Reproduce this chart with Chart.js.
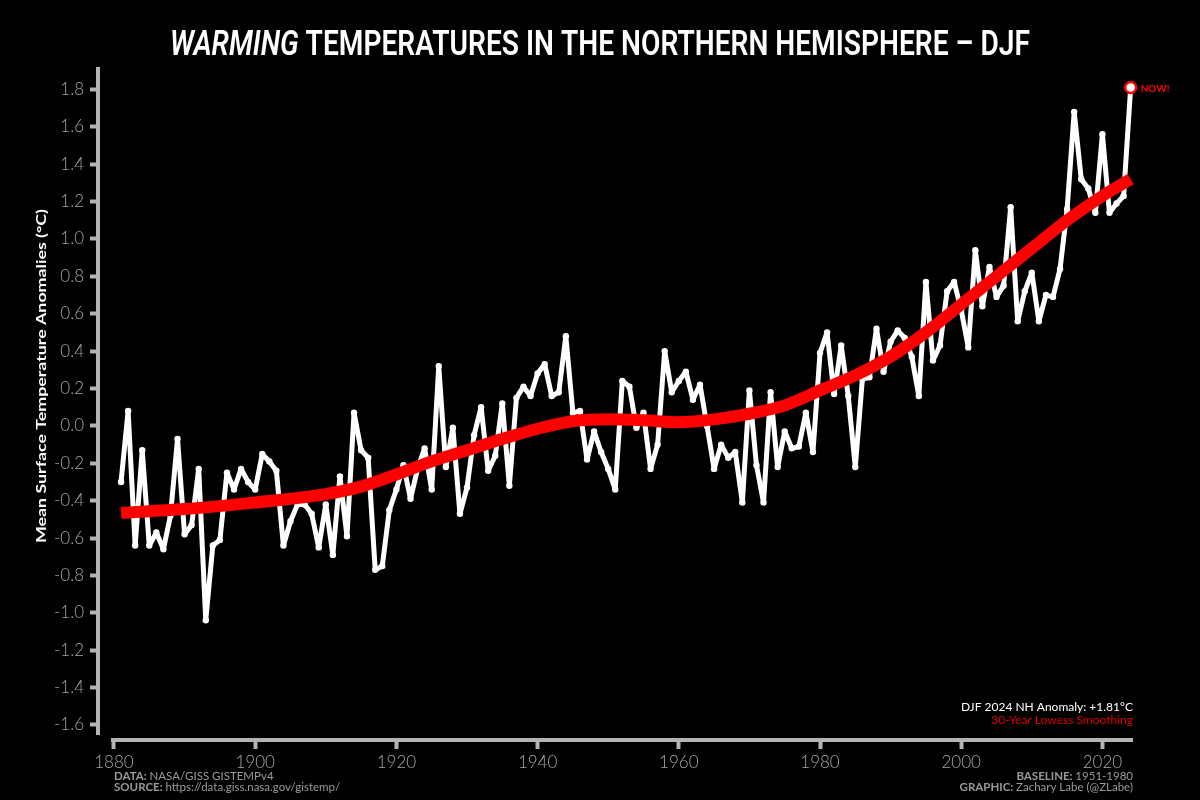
<!DOCTYPE html>
<html>
<head>
<meta charset="utf-8">
<script src="https://cdn.jsdelivr.net/npm/chart.js@4.4.1/dist/chart.umd.min.js"></script>
<style>
  html, body { margin: 0; padding: 0; background: #000; }
  #chart { display: block; }
</style>
</head>
<body>
<canvas id="chart" width="1200" height="800"></canvas>
<script>
// DJF Northern Hemisphere anomalies (deg C), 1881-2024
const years = [];
for (let y = 1881; y <= 2024; y++) years.push(y);

const anomalies = [
  -0.30, 0.08, -0.64, -0.13, -0.64, -0.57, -0.66, -0.48, -0.07, -0.58,   // 1881-1890
  -0.53, -0.23, -1.04, -0.64, -0.61, -0.25, -0.34, -0.23, -0.30, -0.34,  // 1891-1900
  -0.15, -0.19, -0.24, -0.64, -0.51, -0.42, -0.42, -0.47, -0.65, -0.42,  // 1901-1910
  -0.69, -0.27, -0.59, 0.07, -0.13, -0.17, -0.77, -0.75, -0.45, -0.34,   // 1911-1920
  -0.21, -0.39, -0.23, -0.12, -0.34, 0.32, -0.22, -0.01, -0.47, -0.33,   // 1921-1930
  -0.05, 0.10, -0.24, -0.16, 0.12, -0.32, 0.15, 0.21, 0.16, 0.28,        // 1931-1940
  0.33, 0.16, 0.18, 0.48, 0.07, 0.08, -0.18, -0.03, -0.14, -0.23,        // 1941-1950
  -0.34, 0.24, 0.21, -0.01, 0.07, -0.23, -0.10, 0.40, 0.18, 0.24,        // 1951-1960
  0.29, 0.14, 0.22, 0.00, -0.23, -0.10, -0.17, -0.14, -0.41, 0.19,       // 1961-1970
  -0.21, -0.41, 0.18, -0.22, -0.03, -0.12, -0.11, 0.07, -0.14, 0.39,     // 1971-1980
  0.50, 0.17, 0.43, 0.16, -0.22, 0.25, 0.26, 0.52, 0.29, 0.45,           // 1981-1990
  0.51, 0.47, 0.37, 0.16, 0.77, 0.35, 0.43, 0.72, 0.77, 0.62,            // 1991-2000
  0.42, 0.94, 0.64, 0.85, 0.69, 0.75, 1.17, 0.56, 0.72, 0.82,            // 2001-2010
  0.56, 0.70, 0.69, 0.84, 1.16, 1.68, 1.32, 1.27, 1.14, 1.56,            // 2011-2020
  1.14, 1.19, 1.23, 1.81                                                 // 2021-2024
];

// 30-year lowess curve, read at a few years
const smoothYears = [1881, 1890, 1900, 1905, 1910, 1915, 1920, 1925, 1930, 1935, 1940, 1945, 1950,
  1955, 1960, 1965, 1970, 1975, 1980, 1985, 1990, 1995, 2000, 2005, 2010, 2015, 2020, 2024];
const smoothValues = [-0.465, -0.445, -0.41, -0.39, -0.365, -0.325, -0.26, -0.19, -0.13, -0.07, -0.015, 0.025, 0.035,
  0.03, 0.02, 0.035, 0.065, 0.11, 0.19, 0.27, 0.37, 0.50, 0.65, 0.80, 0.95, 1.10, 1.23, 1.32];

const xTicks = [1880, 1900, 1920, 1940, 1960, 1980, 2000, 2020];
const yTicks = [-1.6, -1.4, -1.2, -1.0, -0.8, -0.6, -0.4, -0.2, 0.0, 0.2, 0.4, 0.6, 0.8, 1.0, 1.2, 1.4, 1.6, 1.8];

const AXIS_GREY = '#b4b4b4';
const TEXT_GREY = '#a6a6a6';
const FONT = 'Lato, "Open Sans", sans-serif';

// fills text squeezed or stretched to a given width
function fitText(ctx, text, x, y, width) {
  const w = ctx.measureText(text).width;
  ctx.save();
  ctx.translate(x, y);
  ctx.scale(width / w, 1);
  ctx.fillText(text, 0, 0);
  ctx.restore();
}

// draws the title, spines, axis label and the small notes
const decorations = {
  id: 'decorations',
  beforeDraw(chart) {
    const ctx = chart.ctx;
    ctx.save();
    ctx.fillStyle = '#000';
    ctx.fillRect(0, 0, chart.width, chart.height);
    ctx.restore();
  },
  afterDraw(chart) {
    const ctx = chart.ctx;
    const area = chart.chartArea;
    const xs = chart.scales.x;
    const ys = chart.scales.y;
    ctx.save();

    // spines, offset like the original
    ctx.strokeStyle = AXIS_GREY;
    ctx.lineWidth = 4;
    ctx.lineCap = 'butt';
    ctx.beginPath();
    ctx.moveTo(area.left - 2, area.top);
    ctx.lineTo(area.left - 2, ys.getPixelForValue(yTicks[0]) + 10);
    ctx.moveTo(xs.getPixelForValue(xTicks[0]) - 3, area.bottom + 1);
    ctx.lineTo(area.right + 1, area.bottom + 1);
    ctx.stroke();

    // title: first word in italics, squeezed to the original width
    const part1 = 'WARMING';
    const part2 = ' TEMPERATURES IN THE NORTHERN HEMISPHERE \u2013 DJF';
    ctx.fillStyle = '#fff';
    ctx.textBaseline = 'alphabetic';
    ctx.font = 'italic 600 35px Roboto';
    const w1 = ctx.measureText(part1).width;
    ctx.font = '600 35px Roboto';
    const w2 = ctx.measureText(part2).width;
    const sx = 860 / (w1 + w2);
    ctx.save();
    ctx.translate(170, 55);
    ctx.scale(sx, 1);
    ctx.textAlign = 'left';
    ctx.font = 'italic 600 35px Roboto';
    ctx.fillText(part1, 0, 0);
    ctx.font = '600 35px Roboto';
    ctx.fillText(part2, w1, 0);
    ctx.restore();

    // y axis title
    ctx.save();
    ctx.translate(41, 376);
    ctx.rotate(-Math.PI / 2);
    ctx.textAlign = 'left';
    ctx.textBaseline = 'middle';
    ctx.font = 'bold 14px ' + FONT;
    ctx.fillStyle = '#fff';
    fitText(ctx, 'Mean Surface Temperature Anomalies (\u00b0C)', -167, 0, 334);
    ctx.restore();

    // "NOW!" next to the last point
    const last = years.length - 1;
    ctx.font = 'bold 10px ' + FONT;
    ctx.fillStyle = '#ff0000';
    ctx.textAlign = 'left';
    ctx.textBaseline = 'middle';
    ctx.fillText('NOW!', xs.getPixelForValue(years[last]) + 10, ys.getPixelForValue(anomalies[last]) + 1);

    // legend notes, bottom right of the plot
    ctx.textAlign = 'right';
    ctx.font = '12px ' + FONT;
    ctx.fillStyle = '#fff';
    ctx.fillText('DJF 2024 NH Anomaly: +1.81\u00b0C', area.right + 1, 707);
    ctx.fillStyle = '#e00000';
    ctx.fillText('30-Year Lowess Smoothing', area.right + 1, 720);

    // footers
    ctx.textBaseline = 'alphabetic';
    function labelled(bold, rest, x, y, align) {
      ctx.font = 'bold 11.5px ' + FONT;
      const bw = ctx.measureText(bold).width;
      ctx.font = '11.5px ' + FONT;
      const rw = ctx.measureText(rest).width;
      const start = align === 'right' ? x - bw - rw : x;
      ctx.textAlign = 'left';
      ctx.fillStyle = '#9a9a9a';
      ctx.font = 'bold 11.5px ' + FONT;
      ctx.fillText(bold, start, y);
      ctx.font = '11.5px ' + FONT;
      ctx.fillText(rest, start + bw, y);
    }
    labelled('DATA: ', 'NASA/GISS GISTEMPv4', 114, 780, 'left');
    labelled('SOURCE: ', 'https://data.giss.nasa.gov/gistemp/', 114, 791, 'left');
    labelled('BASELINE: ', '1951-1980', area.right + 1, 780, 'right');
    labelled('GRAPHIC: ', 'Zachary Labe (@ZLabe)', area.right + 1, 791, 'right');

    ctx.restore();
  }
};

const ctx = document.getElementById('chart').getContext('2d');
new Chart(ctx, {
  type: 'line',
  data: {
    datasets: [
      {
        // marker on the latest year
        data: [{ x: years[years.length - 1], y: anomalies[anomalies.length - 1] }],
        showLine: false,
        pointRadius: 5.5,
        pointBackgroundColor: '#fff',
        pointBorderColor: '#ff0000',
        pointBorderWidth: 2.5,
        clip: false,
        order: 0
      },
      {
        data: smoothYears.map((y, i) => ({ x: y, y: smoothValues[i] })),
        borderColor: '#ff0000',
        borderWidth: 12,
        borderCapStyle: 'butt',
        pointRadius: 0,
        cubicInterpolationMode: 'monotone',
        clip: false,
        order: 1
      },
      {
        data: years.map((y, i) => ({ x: y, y: anomalies[i] })),
        borderColor: '#fff',
        borderWidth: 5,
        borderJoinStyle: 'round',
        pointRadius: 3.2,
        pointBorderWidth: 0,
        pointBackgroundColor: '#fff',
        tension: 0,
        clip: false,
        order: 2
      }
    ]
  },
  options: {
    responsive: false,
    animation: false,
    layout: { padding: { top: 67, right: 68, bottom: 0, left: 0 } },
    plugins: {
      legend: { display: false },
      tooltip: { enabled: false }
    },
    scales: {
      x: {
        type: 'linear',
        min: 1878.02,
        max: 2024.19,
        afterBuildTicks: function (scale) {
          scale.ticks = xTicks.map(v => ({ value: v }));
        },
        afterFit: function (scale) {
          scale.height = 61;
        },
        ticks: {
          autoSkip: false,
          maxRotation: 0,
          padding: 3,
          color: TEXT_GREY,
          font: { family: FONT, size: 17, weight: '300' },
          callback: v => String(v)
        },
        grid: {
          drawOnChartArea: false,
          drawTicks: true,
          tickLength: 10,
          tickWidth: 4,
          tickColor: AXIS_GREY
        },
        border: { display: false }
      },
      y: {
        min: -1.675,
        max: 1.92,
        afterBuildTicks: function (scale) {
          scale.ticks = yTicks.map(v => ({ value: v }));
        },
        afterFit: function (scale) {
          scale.width = 100;
        },
        ticks: {
          autoSkip: false,
          padding: 6,
          color: TEXT_GREY,
          font: { family: FONT, size: 17, weight: '300' },
          callback: v => v.toFixed(1)
        },
        grid: {
          drawOnChartArea: false,
          drawTicks: true,
          tickLength: 10,
          tickWidth: 4,
          tickColor: AXIS_GREY
        },
        border: { display: false }
      }
    }
  },
  plugins: [decorations]
});
</script>
</body>
</html>
